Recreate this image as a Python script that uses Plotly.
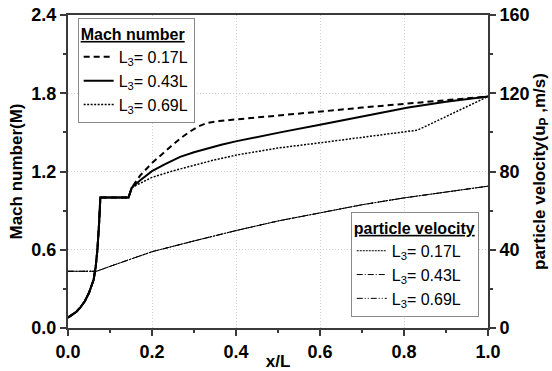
import plotly.graph_objects as go

# ---------------- data ----------------
# shared initial part of Mach number curves (x/L, M)
base_x = [0.0, 0.01, 0.02, 0.03, 0.04, 0.05, 0.061, 0.066, 0.070, 0.074, 0.077, 0.144]
base_M = [0.08, 0.10, 0.125, 0.16, 0.205, 0.27, 0.37, 0.47, 0.60, 0.80, 1.00, 1.00]

m017_x = [0.152, 0.172, 0.2, 0.244, 0.27, 0.29, 0.31, 0.331, 0.36, 0.402, 0.505, 0.603, 0.7, 0.8, 0.9, 1.0]
m017_M = [1.077, 1.17, 1.265, 1.39, 1.46, 1.505, 1.545, 1.572, 1.587, 1.60, 1.628, 1.66, 1.69, 1.72, 1.748, 1.775]

m043_x = [0.152, 0.172, 0.2, 0.23, 0.267, 0.3, 0.331, 0.365, 0.402, 0.45, 0.505, 0.603, 0.7, 0.81, 0.9, 1.0]
m043_M = [1.077, 1.133, 1.203, 1.255, 1.312, 1.347, 1.377, 1.405, 1.433, 1.466, 1.50, 1.561, 1.62, 1.691, 1.735, 1.775]

m069_x = [0.152, 0.172, 0.2, 0.25, 0.3, 0.35, 0.402, 0.5, 0.6, 0.7, 0.8, 0.832, 0.9, 1.0]
m069_M = [1.077, 1.11, 1.155, 1.205, 1.25, 1.29, 1.327, 1.38, 1.42, 1.46, 1.50, 1.517, 1.621, 1.775]

# particle velocity (m/s)
vel_x = [0.0, 0.068, 0.1, 0.2, 0.3, 0.4, 0.5, 0.6, 0.7, 0.8, 0.9, 1.0]
vel_017 = [29.0, 29.0, 31.5, 39.0, 44.5, 49.8, 54.7, 59.0, 63.0, 66.5, 69.6, 72.5]
vel_043 = [29.0, 29.0, 31.5, 39.0, 44.5, 49.8, 54.7, 59.0, 63.0, 66.5, 69.6, 72.5]
vel_069 = [29.0, 29.0, 31.5, 39.0, 44.5, 49.8, 54.7, 59.0, 63.0, 66.5, 69.6, 72.5]

labels = ["L<sub>3</sub>= 0.17L", "L<sub>3</sub>= 0.43L", "L<sub>3</sub>= 0.69L"]

FONT = "Liberation Sans, Arial, sans-serif"
AX = "#3a3a3a"
GRID = "#cfcfcf"

fig = go.Figure()

# velocity traces (thin)
vel_dash = ["2px,1px", "6px,2px,1px,2px", "6px,2px,1px,2px,1px,2px"]
for lab, vy, d in zip(labels, [vel_017, vel_043, vel_069], vel_dash):
    fig.add_trace(go.Scatter(x=vel_x, y=vy, mode="lines", yaxis="y2", name=lab,
                             line=dict(color="black", width=1, dash=d), legend="legend2"))

# Mach traces
mach_dash = ["6px,4px", "solid", "2px,1.5px"]
mach_w = [2, 2, 1.5]
for lab, bx, by, d, w in zip(labels, [m017_x, m043_x, m069_x], [m017_M, m043_M, m069_M], mach_dash, mach_w):
    fig.add_trace(go.Scatter(x=base_x + bx, y=base_M + by, mode="lines", name=lab,
                             line=dict(color="black", width=w, dash=d), legend="legend"))
# solid overlay of the shared initial part
fig.add_trace(go.Scatter(x=base_x + [m043_x[0]], y=base_M + [m043_M[0]], mode="lines",
                         showlegend=False, line=dict(color="black", width=2)))

tickfont = dict(family=FONT, size=18, color="black", weight="bold")
titlefont = dict(family=FONT, size=17, color="black", weight="bold")

fig.update_layout(
    width=552, height=371,
    margin=dict(l=68, r=64, t=15, b=43),
    paper_bgcolor="white", plot_bgcolor="white",
    font=dict(family=FONT, color="black"),
    xaxis=dict(range=[0, 1.0], dtick=0.2, tickformat=".1f", showgrid=True,
               gridcolor=GRID, griddash="1px,2px", gridwidth=1, automargin=False,
               showline=True, linecolor=AX, linewidth=2, mirror=True,
               ticks="outside", ticklen=6, tickwidth=1.5, tickcolor=AX,
               minor=dict(dtick=0.1, ticks="outside", ticklen=3, tickcolor=AX, showgrid=False),
               tickfont=tickfont, zeroline=False,
               title=dict(text="<b>x/L</b>", font=titlefont, standoff=0)),
    yaxis=dict(range=[0, 2.4], dtick=0.6, tickformat=".1f", showgrid=True,
               gridcolor=GRID, griddash="1px,2px", gridwidth=1, automargin=False,
               showline=True, linecolor=AX, linewidth=2,
               ticks="outside", ticklen=6, tickwidth=1.5, tickcolor=AX,
               minor=dict(dtick=0.3, ticks="outside", ticklen=3, tickcolor=AX, showgrid=False),
               tickfont=tickfont, zeroline=False,
               title=dict(text="<b>Mach number(M)</b>", font=titlefont, standoff=4)),
    yaxis2=dict(range=[0, 160], dtick=40, overlaying="y", side="right", showgrid=False,
                showline=True, linecolor=AX, linewidth=2, automargin=False,
                ticks="outside", ticklen=6, tickwidth=1.5, tickcolor=AX,
                minor=dict(dtick=20, ticks="outside", ticklen=3, tickcolor=AX),
                tickfont=tickfont, zeroline=False,
                title=dict(text="<b>particle velocity(u<sub>P</sub> ,m/s)</b>", font=titlefont, standoff=2)),
    legend=dict(x=0.023, y=0.99, xanchor="left", yanchor="top",
                bgcolor="white", bordercolor="#8a8a8a", borderwidth=1,
                font=dict(family=FONT, size=16, color="black"),
                title=dict(text="<b><u>Mach number</u></b>", font=dict(family=FONT, size=16, color="black")),
                tracegroupgap=0, itemwidth=30),
    legend2=dict(x=0.978, y=0.035, xanchor="right", yanchor="bottom",
                 bgcolor="white", bordercolor="#8a8a8a", borderwidth=1,
                 font=dict(family=FONT, size=16, color="black"),
                 title=dict(text="<b><u>particle velocity</u></b>", font=dict(family=FONT, size=16, color="black")),
                 tracegroupgap=0, itemwidth=30),
)

fig.write_html("out.html")
